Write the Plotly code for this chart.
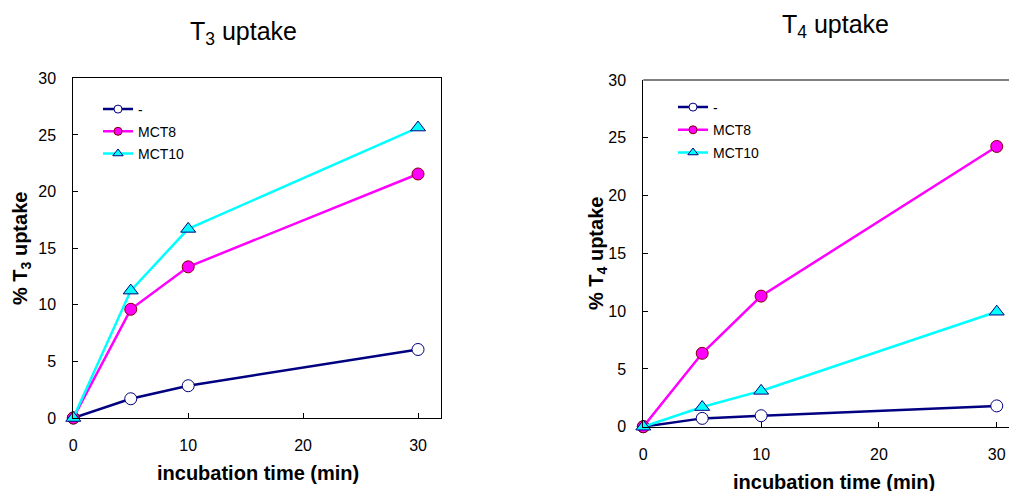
import plotly.graph_objects as go

# ---- data ----
time_min = [0, 5, 10, 30]
series_names = ["-", "MCT8", "MCT10"]
t3_ctrl = [0, 1.7, 2.85, 6.05]
t3_mct8 = [0, 9.6, 13.35, 21.55]
t3_mct10 = [0, 11.25, 16.7, 25.65]
t4_ctrl = [0, 0.72, 0.95, 1.8]
t4_mct8 = [0, 6.35, 11.3, 24.25]
t4_mct10 = [0, 1.7, 3.1, 9.95]
x_ticks = [0, 10, 20, 30]
y_ticks = [0, 5, 10, 15, 20, 25, 30]

W, H = 1009, 491
FONT = "Liberation Sans, Arial, sans-serif"

styles = [
    dict(line=dict(color="#000080", width=2.5), size=12, lsize=8,
         marker=dict(symbol="circle", color="white", line=dict(color="#000080", width=1))),
    dict(line=dict(color="#FF00FF", width=2.5), size=12, lsize=8,
         marker=dict(symbol="circle", color="#FF00FF", line=dict(color="#800000", width=1))),
    dict(line=dict(color="#00FFFF", width=2.5), size=13, lsize=9,
         marker=dict(symbol="triangle-up", color="#00FFFF", line=dict(color="#000080", width=1))),
]

fig = go.Figure()

def add_panel(ys, xa, ya, legend):
    for name, y, st in zip(series_names, ys, styles):
        fig.add_trace(go.Scatter(
            x=time_min, y=y, mode="lines+markers", name=name,
            line=st["line"], marker=dict(size=st["size"], **st["marker"]),
            xaxis=xa, yaxis=ya, cliponaxis=False, showlegend=False))
    for name, st in zip(series_names, styles):
        fig.add_trace(go.Scatter(
            x=[None], y=[None], mode="lines+markers", name=name,
            line=st["line"], marker=dict(size=st["lsize"], **st["marker"]),
            xaxis=xa, yaxis=ya, legend=legend, legendgroup=legend + name,
            showlegend=True))

add_panel([t3_ctrl, t3_mct8, t3_mct10], "x", "y", "legend")
add_panel([t4_ctrl, t4_mct8, t4_mct10], "x2", "y2", "legend2")

def px(x):
    return x / W

def py(y):
    return 1 - y / H

axis_common = dict(showgrid=False, zeroline=False, showline=True, linecolor="black",
                   linewidth=1, ticks="inside", ticklen=5, tickcolor="black", tickwidth=1,
                   tickfont=dict(family=FONT, size=16, color="black"), ticklabelstandoff=13)

fig.update_layout(
    width=W, height=H, margin=dict(l=0, r=0, t=0, b=0, autoexpand=False),
    paper_bgcolor="white", plot_bgcolor="white",
    xaxis=dict(domain=[px(73.3), px(441)], range=[0, 32], tickvals=x_ticks, anchor="y",
               mirror=True, **axis_common),
    yaxis=dict(domain=[py(418), py(78.3)], range=[0, 30], tickvals=y_ticks, anchor="x",
               mirror=True, **axis_common),
    xaxis2=dict(domain=[px(643.3), 1.0], range=[0, 31.04], tickvals=x_ticks, anchor="y2",
                **axis_common),
    yaxis2=dict(domain=[py(426.7), py(80)], range=[0, 30], tickvals=y_ticks, anchor="x2",
                **axis_common),
    legend=dict(x=px(98), y=py(93.5), xanchor="left", yanchor="top", bgcolor="rgba(0,0,0,0)",
                font=dict(family=FONT, size=14, color="black"), tracegroupgap=1,
                traceorder="grouped"),
    legend2=dict(x=px(673), y=py(91.5), xanchor="left", yanchor="top", bgcolor="rgba(0,0,0,0)",
                 font=dict(family=FONT, size=14, color="black"), tracegroupgap=1.5,
                 traceorder="grouped"),
    showlegend=True,
)

# top frame line of the right panel (grey)
fig.add_shape(type="line", xref="x2 domain", yref="y2 domain", x0=0, x1=1, y0=1, y1=1,
              line=dict(color="#808080", width=2), layer="below")

def text(x, y, s, size, bold=False, angle=0):
    fig.add_annotation(x=px(x), y=py(y), xref="paper", yref="paper", text=s, showarrow=False,
                       xanchor="center", yanchor="middle", textangle=angle,
                       font=dict(family=FONT, size=size, color="black",
                                 weight="bold" if bold else "normal"))

text(243, 33, "T<sub>3</sub> uptake", 25)
text(835, 26, "T<sub>4</sub> uptake", 25)
text(257.5, 473, "incubation time (min)", 20, bold=True)
text(834, 482, "incubation time (min)", 20, bold=True)
text(22, 249, "% T<sub>3</sub> uptake", 20, bold=True, angle=-90)
text(597, 254, "% T<sub>4</sub> uptake", 20, bold=True, angle=-90)

fig.write_html("out.html", config={"displayModeBar": False},
               post_script="document.body.style.margin='0';document.body.style.overflow='hidden';")
